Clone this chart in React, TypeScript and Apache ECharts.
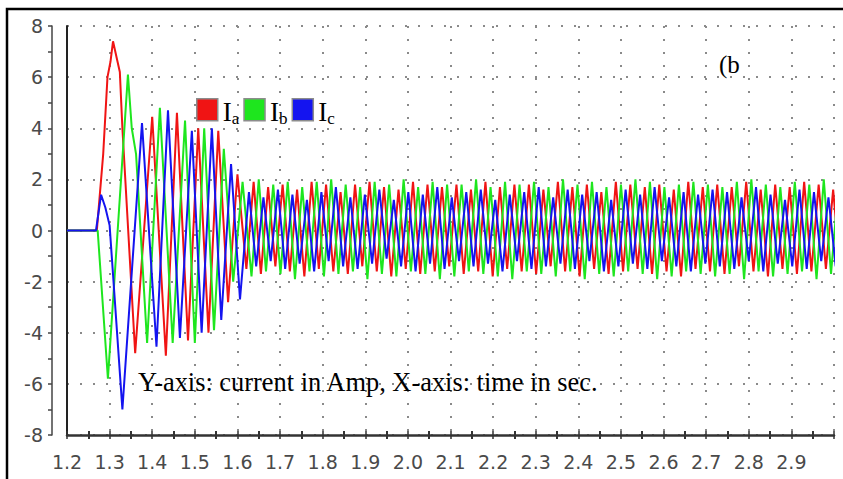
import React, { useEffect, useRef } from "react";
import * as echarts from "echarts";

// ---- axis tick labels ----
const xTickLabels = ["1.2","1.3","1.4","1.5","1.6","1.7","1.8","1.9","2.0","2.1","2.2","2.3","2.4","2.5","2.6","2.7","2.8","2.9"];
const yTickLabels = ["-8","-6","-4","-2","0","2","4","6","8"];

// ---- start-up transient: extremum times (s) and currents (A) ----
const redTimes = [1.2, 1.27, 1.285, 1.295, 1.302, 1.308, 1.316, 1.324, 1.33, 1.36, 1.4, 1.432, 1.458, 1.484, 1.508, 1.532, 1.555, 1.578, 1.6];
const redVals = [0, 0, 3.0, 6.0, 6.6, 7.4, 6.8, 6.2, 4.0, -4.8, 4.45, -4.9, 4.6, -4.3, 4.0, -4.0, 3.9, -2.8, 2.2];
const greenTimes = [1.2, 1.272, 1.296, 1.343, 1.352, 1.362, 1.388, 1.418, 1.448, 1.477, 1.5, 1.522, 1.545, 1.568, 1.59, 1.612];
const greenVals = [0, 0, -5.8, 6.1, 4.0, 3.0, -4.4, 4.8, -4.4, 4.3, -4.4, 4.0, -3.9, 3.2, -2.0, 1.9];
const blueTimes = [1.2, 1.268, 1.28, 1.29, 1.3, 1.33, 1.376, 1.41, 1.437, 1.465, 1.493, 1.516, 1.54, 1.562, 1.585, 1.606];
const blueVals = [0, 0, 1.4, 0.9, 0.2, -7.0, 4.2, -4.55, 4.7, -4.2, 3.9, -4.0, 4.0, -3.5, 2.6, -2.7];

// ---- steady state: successive positive / negative peaks of each phase ----
const steadyHalfPeriod = 0.017;
const redSteadyStart = 1.621;
const redPeaks = [1.9,1.7,1.8,1.6,1.9,1.8,1.5,1.8,1.9,1.7,1.6,1.9,1.8,1.7,1.8,1.6,1.9,1.7,1.8,1.8,1.6,1.9,1.7,1.8,1.5,1.9,1.8,1.7,1.8,1.6,1.9,1.7,1.8,1.7,1.9,1.6,1.8,1.7,1.9,1.8,1.6,1.8];
const redTroughs = [-1.5,-1.7,-1.4,-1.6,-1.8,-1.5,-1.6,-1.7,-1.4,-1.6,-1.8,-1.5,-1.7,-1.6,-1.4,-1.7,-1.6,-1.8,-1.5,-1.6,-1.7,-1.4,-1.6,-1.8,-1.5,-1.7,-1.6,-1.5,-1.7,-1.6,-1.8,-1.5,-1.6,-1.7,-1.4,-1.6,-1.8,-1.5,-1.7,-1.6,-1.5,-1.7];
const greenSteadyStart = 1.633;
const greenPeaks = [2.0,1.8,1.9,1.7,1.9,2.0,1.8,1.7,1.9,1.8,2.0,1.7,1.9,1.8,1.8,2.0,1.7,1.9,1.8,1.9,1.7,2.0,1.8,1.9,1.7,1.8,2.0,1.9,1.7,1.8,1.9,1.8,1.7,1.9,2.0,1.8,1.7,1.9,1.8,2.0,1.7,1.9];
const greenTroughs = [-1.8,-1.6,-1.7,-1.9,-1.6,-1.8,-1.7,-1.6,-1.9,-1.7,-1.8,-1.6,-1.7,-1.9,-1.8,-1.6,-1.7,-1.8,-1.9,-1.6,-1.7,-1.8,-1.6,-1.9,-1.7,-1.8,-1.6,-1.7,-1.9,-1.8,-1.6,-1.7,-1.8,-1.7,-1.9,-1.6,-1.8,-1.7,-1.6,-1.9,-1.7,-1.8];
const blueSteadyStart = 1.627;
const bluePeaks = [1.5,1.3,1.6,1.4,1.2,1.5,1.7,1.3,1.4,1.6,1.2,1.5,1.4,1.7,1.3,1.5,1.6,1.2,1.4,1.5,1.7,1.3,1.6,1.4,1.5,1.2,1.6,1.4,1.7,1.3,1.5,1.4,1.6,1.5,1.3,1.7,1.4,1.2,1.6,1.5,1.3,1.4];
const blueTroughs = [-1.4,-1.2,-1.5,-1.3,-1.6,-1.2,-1.4,-1.5,-1.3,-1.1,-1.4,-1.6,-1.3,-1.5,-1.2,-1.4,-1.3,-1.6,-1.2,-1.5,-1.4,-1.3,-1.5,-1.2,-1.6,-1.4,-1.3,-1.5,-1.2,-1.4,-1.6,-1.3,-1.4,-1.5,-1.2,-1.6,-1.3,-1.4,-1.5,-1.2,-1.4,-1.3];

function buildPhase(times: number[], vals: number[], start: number, firstUp: boolean, peaks: number[], troughs: number[]) {
  const pts: number[][] = times.map((t, i) => [t, vals[i]]);
  let pi = 0, ti = 0, up = firstUp, k = 0;
  while (true) {
    const v = up ? peaks[pi++] : troughs[ti++];
    if (v === undefined) break;
    pts.push([+(start + k * steadyHalfPeriod).toFixed(4), v]);
    up = !up;
    k++;
  }
  return pts;
}

const SERIF = "'Liberation Serif', 'Times New Roman', serif";
const SANS = "'DejaVu Sans', Verdana, sans-serif";

export default function App() {
  const ref = useRef<HTMLDivElement>(null);
  useEffect(() => {
    document.body.style.margin = "0";
    const chart = echarts.init(ref.current!, null, { renderer: "svg" });
    const red = buildPhase(redTimes, redVals, redSteadyStart, false, redPeaks, redTroughs);
    const green = buildPhase(greenTimes, greenVals, greenSteadyStart, false, greenPeaks, greenTroughs);
    const blue = buildPhase(blueTimes, blueVals, blueSteadyStart, true, bluePeaks, blueTroughs);
    const dotted = { type: [2, 11] as any, color: "#8a8a8a", width: 2 };
    const common = { min: 1.2, max: 3.0, interval: 0.1 };
    chart.setOption({
      animation: false,
      backgroundColor: "#fff",
      grid: { left: 67, right: 9, top: 26, bottom: 44, containLabel: false },
      legend: {
        data: ["Ia", "Ib", "Ic"],
        left: 196,
        top: 98,
        padding: 0,
        icon: "rect",
        itemWidth: 21,
        itemHeight: 22,
        itemGap: 4,
        itemStyle: { borderColor: "#8c8c8c", borderWidth: 1.5 },
        formatter: (name: string) => `{m|I}{s|${name.slice(1)}}`,
        textStyle: {
          padding: [4, 0, 0, 0],
          rich: {
            m: { fontFamily: SERIF, fontSize: 27, color: "#000", lineHeight: 30 },
            s: { fontFamily: SERIF, fontSize: 17, color: "#000", lineHeight: 22, verticalAlign: "bottom" },
          },
        },
      },
      xAxis: [
        {
          type: "value",
          ...common,
          axisLine: { onZero: false, lineStyle: { color: "#333", width: 2.5 } },
          axisTick: { show: true, length: 4, lineStyle: { color: "#333", width: 1.5 } },
          minorTick: { show: true, splitNumber: 2, length: 4, lineStyle: { color: "#333", width: 2 } },
          axisLabel: {
            margin: 17,
            fontFamily: SANS,
            fontSize: 19,
            color: "#4a4a4a",
            showMaxLabel: false,
            formatter: (v: number) => xTickLabels[Math.round((v - 1.2) * 10)] ?? "",
          },
          splitLine: { show: true, lineStyle: dotted },
        },
        {
          type: "value",
          ...common,
          position: "bottom",
          axisLine: { show: false, onZero: false },
          axisTick: { show: true, inside: true, length: 4, lineStyle: { color: "#333", width: 1.5 } },
          minorTick: { show: true, splitNumber: 2, length: 4, lineStyle: { color: "#333", width: 2 } },
          axisLabel: { show: false },
          splitLine: { show: false },
        },
      ],
      yAxis: [
        {
          type: "value",
          min: -8,
          max: 8,
          interval: 2,
          axisLine: { show: true, onZero: false, lineStyle: { color: "#222", width: 2 } },
          axisTick: { show: false },
          axisLabel: { show: false },
          splitLine: { show: true, lineStyle: dotted },
        },
        {
          type: "value",
          min: -8,
          max: 8,
          interval: 2,
          position: "left",
          offset: 15,
          axisLine: { show: true, onZero: false, lineStyle: { color: "#444", width: 1.5 } },
          axisTick: { show: true, length: 4, lineStyle: { color: "#444", width: 1.5 } },
          minorTick: { show: true, splitNumber: 2, length: 4, lineStyle: { color: "#444", width: 1.5 } },
          axisLabel: {
            margin: 9,
            fontFamily: SANS,
            fontSize: 19,
            color: "#4a4a4a",
            formatter: (v: number) => yTickLabels[Math.round((v + 8) / 2)] ?? "",
          },
          splitLine: { show: false },
        },
      ],
      series: [
        { name: "Ia", type: "line", data: red, showSymbol: false, symbol: "none", color: "#f01414", lineStyle: { width: 2, color: "#f01414" } },
        { name: "Ib", type: "line", data: green, showSymbol: false, symbol: "none", color: "#1ee61e", lineStyle: { width: 2, color: "#1ee61e" } },
        { name: "Ic", type: "line", data: blue, showSymbol: false, symbol: "none", color: "#1414f0", lineStyle: { width: 2, color: "#1414f0" } },
      ],
      graphic: [
        { type: "polyline", shape: { points: [[7, 479], [7, 9], [843, 9]] }, style: { stroke: "#000", lineWidth: 2.5, fill: null }, z: 100 },
        { type: "text", x: 719, y: 64, style: { text: "(b", font: `25px ${SERIF}`, fill: "#000", verticalAlign: "middle" }, z: 100 },
        { type: "text", x: 138, y: 382, style: { text: "Y-axis: current in Amp, X-axis: time in sec.", font: `26.4px ${SERIF}`, fill: "#000", verticalAlign: "middle" }, z: 100 },
      ],
    });
    return () => chart.dispose();
  }, []);
  return <div ref={ref} style={{ width: 843, height: 479 }} />;
}
